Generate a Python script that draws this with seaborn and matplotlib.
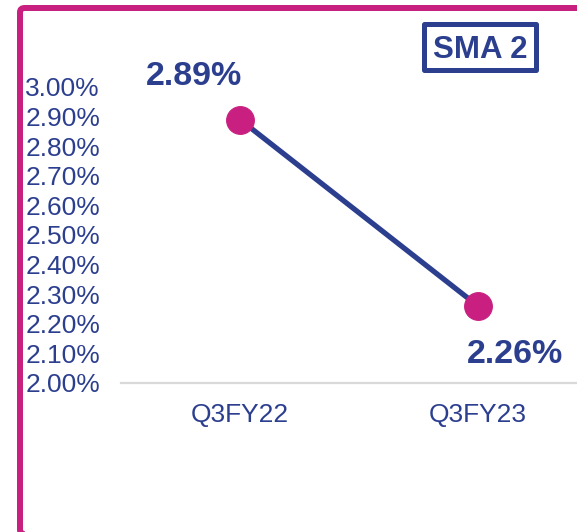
import matplotlib
matplotlib.use("Agg")
import matplotlib.pyplot as plt
from matplotlib.patches import FancyBboxPatch, Rectangle
import numpy as np
import pandas as pd
import seaborn as sns

# Gross NPA ratio, SMA 2 bucket
quarters = ["Q3FY22", "Q3FY23"]
sma2_pct = [2.89, 2.26]
y_ticks = [2.00, 2.10, 2.20, 2.30, 2.40, 2.50, 2.60, 2.70, 2.80, 2.90, 3.00]
panel_title = "SMA 2"

NAVY = "#2C3F8F"
MAGENTA = "#C81F80"
GRID = "#D9D9D9"

sns.set_theme(style="white")
plt.rcParams["font.family"] = ["Liberation Sans", "DejaVu Sans"]

W, H, DPI = 577, 532, 100
fig = plt.figure(figsize=(W / DPI, H / DPI), dpi=DPI)

def px(x0, y0, x1, y1):
    """Figure-fraction rectangle from pixel corners (top-left origin)."""
    return [x0 / W, 1 - y1 / H, (x1 - x0) / W, (y1 - y0) / H]

ax = fig.add_axes(px(121, 87, 597, 383))

df = pd.DataFrame({"quarter": quarters, "value": sma2_pct})
sns.lineplot(data=df, x="quarter", y="value", ax=ax, color=NAVY, lw=3.8,
             marker="o", markersize=20, markerfacecolor=MAGENTA,
             markeredgecolor=MAGENTA, clip_on=False, zorder=5)

ax.set_xlim(-0.5, 1.5)
ax.set_ylim(y_ticks[0], y_ticks[-1])
ax.set_yticks(y_ticks)
ax.set_yticklabels([f"{v:.2f}%" for v in y_ticks])
ax.tick_params(axis="y", length=0, pad=69, labelsize=19, labelcolor=NAVY)
for lab in ax.get_yticklabels():
    lab.set_ha("left")
ax.tick_params(axis="x", length=0, pad=14.5, labelsize=19, labelcolor=NAVY)
ax.set_xlabel("")
ax.set_ylabel("")
for side in ["top", "right", "left"]:
    ax.spines[side].set_visible(False)
ax.spines["bottom"].set_color(GRID)
ax.spines["bottom"].set_linewidth(1.6)
ax.grid(False)

# Value labels
offsets = [(-46, 35), (37, -57)]
for q, v, (dx, dy) in zip(quarters, sma2_pct, offsets):
    ax.annotate(f"{v:.2f}%", xy=(quarters.index(q), v), xytext=(dx, dy),
                textcoords="offset pixels", ha="center", va="baseline",
                fontsize=24.5, fontweight="bold", color=NAVY,
                annotation_clip=False)

# Panel frame
frame = FancyBboxPatch((20 / W, 1 - 534 / H), 590 / W, 526 / H,
                       boxstyle="round,pad=0,rounding_size=0.008",
                       transform=fig.transFigure, fill=False,
                       edgecolor=MAGENTA, lw=4.3, clip_on=False)
fig.patches.append(frame)

# Title box
box = Rectangle((423.5 / W, 1 - 69.5 / H), 112 / W, 45 / H,
                transform=fig.transFigure, fill=False, edgecolor=NAVY,
                lw=3.6, joinstyle="round")
fig.patches.append(box)
fig.text(480 / W, 1 - 58 / H, panel_title, ha="center", va="baseline",
         fontsize=22.5, fontweight="bold", color=NAVY)

fig.savefig("out.png", dpi=DPI, facecolor="white")
